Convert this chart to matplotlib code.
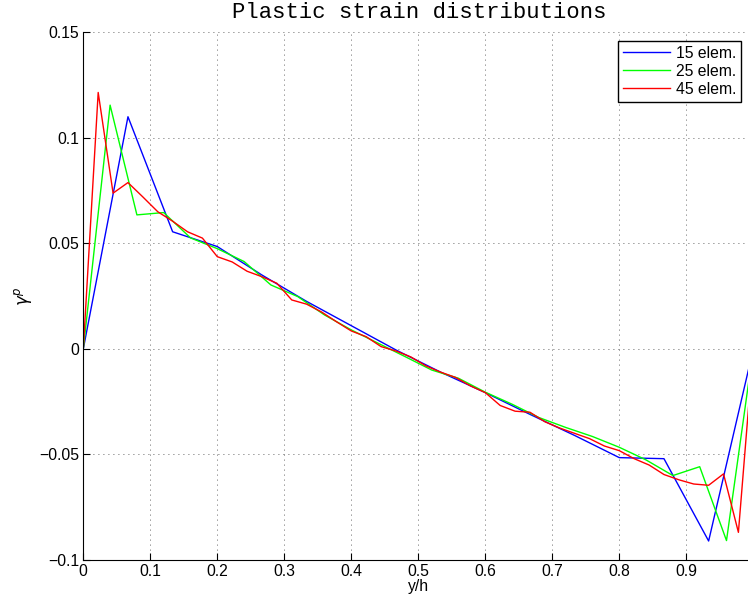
import numpy as np
import matplotlib
matplotlib.use('Agg')
import matplotlib.pyplot as plt

# node positions y/h for each mesh
x15 = np.arange(16) / 15.0
x25 = np.arange(26) / 25.0
x45 = np.arange(46) / 45.0

# plastic strain
g15 = [0.0, 0.110, 0.0555, 0.0485, 0.035, 0.0225, 0.011, -0.0005,
       -0.011, -0.0207, -0.031, -0.041, -0.0515, -0.052, -0.091, 0.0]

g25 = [0.0, 0.1155, 0.0635, 0.0646, 0.0526, 0.0475, 0.0414, 0.0303,
       0.0248, 0.0161, 0.009, 0.0027, -0.0036, -0.010, -0.0139, -0.0205,
       -0.0262, -0.0325, -0.0372, -0.0415, -0.0466, -0.0526, -0.060,
       -0.0558, -0.0908, 0.0]

g45 = [0.0, 0.1215, 0.0738, 0.0788, 0.072, 0.065, 0.0605, 0.0555,
       0.0525, 0.0437, 0.0412, 0.0368, 0.0342, 0.0311, 0.0232, 0.0212,
       0.0175, 0.0129, 0.0085, 0.0058, 0.0011, -0.0010, -0.0038, -0.0080,
       -0.0110, -0.0135, -0.0175, -0.0207, -0.0268, -0.0295, -0.0300,
       -0.0345, -0.0375, -0.0400, -0.0425, -0.0460, -0.0482, -0.0520,
       -0.0550, -0.0595, -0.0620, -0.0640, -0.0646, -0.0592, -0.0869, 0.0]

labels = ['15 elem.', '25 elem.', '45 elem.']

plt.rcParams['font.family'] = ['Liberation Sans', 'DejaVu Sans']

fig = plt.figure(figsize=(7.48, 6.07), dpi=100)
ax = fig.add_axes([83.3/748, 1-560/607, 670/748, (560-32.3)/607])

ax.plot(x15, g15, color='#0000ff', lw=1.0, label=labels[0])
ax.plot(x25, g25, color='#00ff00', lw=1.0, label=labels[1])
ax.plot(x45, g45, color='#ff0000', lw=1.0, label=labels[2])

ax.set_xlim(0, 1)
ax.set_ylim(-0.1, 0.15)
ax.set_xticks(np.arange(0, 1.0, 0.1))
ax.set_xticklabels(['0', '0.1', '0.2', '0.3', '0.4', '0.5', '0.6', '0.7', '0.8', '0.9'])
ax.set_yticks([-0.1, -0.05, 0, 0.05, 0.1, 0.15])
ax.set_yticklabels(['\u22120.1', '\u22120.05', '0', '0.05', '0.1', '0.15'])
ax.tick_params(direction='in', length=5, labelsize=11.3, top=False, right=False, pad=3)
ax.spines['top'].set_visible(False)
ax.spines['right'].set_visible(False)
ax.grid(True, color='#333333', linestyle=(0, (1, 5)), linewidth=0.6)

ax.set_xlabel('y/h', fontsize=11.3, labelpad=0)
ax.set_ylabel(r'$\gamma^p$', fontsize=12, labelpad=4)
fig.text(419/748, 1-13/607, 'Plastic strain distributions', family='Liberation Mono',
         fontsize=16, ha='center', va='center')

leg = ax.legend(loc='upper right', bbox_to_anchor=(741/748, 1-41/607),
                bbox_transform=fig.transFigure, fancybox=False, framealpha=1,
                edgecolor='black', fontsize=11.3, handlelength=3.0,
                handletextpad=0.4, borderaxespad=0, borderpad=0.3,
                labelspacing=0.2)
leg.get_frame().set_linewidth(1.0)

fig.savefig('out.png', dpi=100)
